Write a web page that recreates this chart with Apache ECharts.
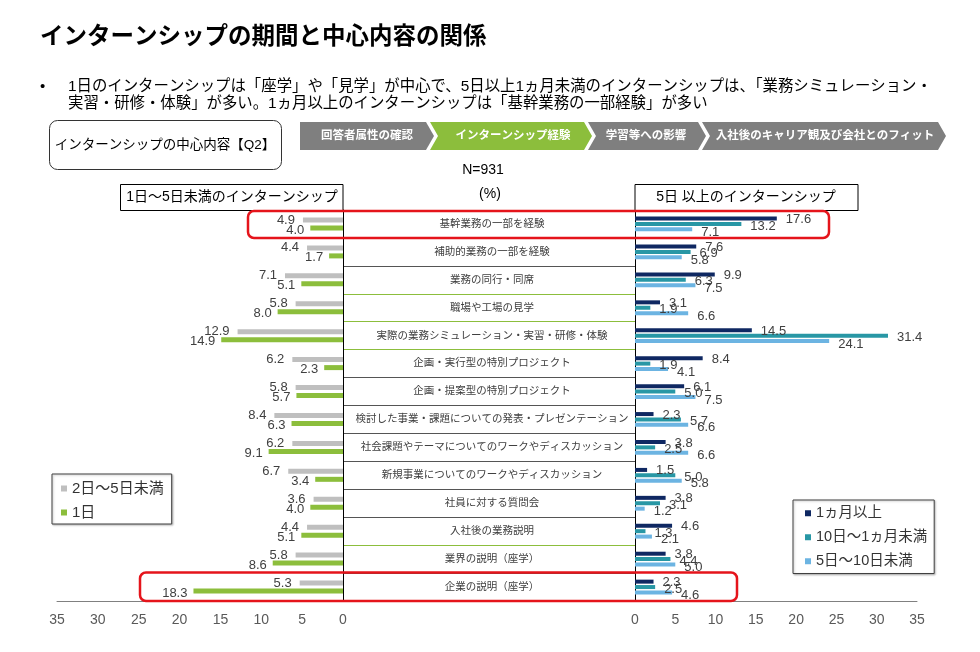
<!DOCTYPE html>
<html><head><meta charset="utf-8">
<script src="https://cdn.jsdelivr.net/npm/echarts@6/dist/echarts.min.js"></script>
<style>html,body{margin:0;padding:0;background:#fff}#c{width:980px;height:652px}</style>
</head><body><div id="c"></div>
<script>
const categories = ['基幹業務の一部を経験','補助的業務の一部を経験','業務の同行・同席','職場や工場の見学','実際の業務シミュレーション・実習・研修・体験','企画・実行型の特別プロジェクト','企画・提案型の特別プロジェクト','検討した事業・課題についての発表・プレゼンテーション','社会課題やテーマについてのワークやディスカッション','新規事業についてのワークやディスカッション','社員に対する質問会','入社後の業務説明','業界の説明（座学）','企業の説明（座学）'];
const seriesNamesLeft = ['2日～5日未満','1日'];
const seriesNamesRight = ['1ヵ月以上','10日～1ヵ月未満','5日～10日未満'];
const d2to5 = [4.9,4.4,7.1,5.8,12.9,6.2,5.8,8.4,6.2,6.7,3.6,4.4,5.8,5.3];
const d1 = [4.0,1.7,5.1,8.0,14.9,2.3,5.7,6.3,9.1,3.4,4.0,5.1,8.6,18.3];
const m1plus = [17.6,7.6,9.9,3.1,14.5,8.4,6.1,2.3,3.8,1.5,3.8,4.6,3.8,2.3];
const d10to1m = [13.2,6.9,6.3,1.9,31.4,1.9,5.0,5.7,2.5,5.0,3.1,1.3,4.4,2.5];
const d5to10 = [7.1,5.8,7.5,6.6,24.1,4.1,7.5,6.6,6.6,5.8,1.2,2.1,5.0,4.6];
const axisMin = 0, axisMax = 35, axisInterval = 5;

const JP = "'Liberation Sans','Noto Sans CJK JP',sans-serif";
const NUM = "'Liberation Sans',Arial,sans-serif";
const G = '#8cbe3c', DK = '#555555';
const sepColors = [DK,DK,DK,G,G,G,DK,DK,DK,DK,DK,DK,G,DK,DK];
const lbl = {show:true, fontSize:13, fontFamily:NUM, color:'#404040', formatter:p=>p.value.toFixed(1)};

function txt(text,x,y,size,opt){
  opt = opt||{};
  return {type:'text', z:100, style:Object.assign({text:text,x:x,y:y,fontSize:size,fontFamily:JP,fill:'#000',
    align:opt.align||'left',textAlign:opt.align||'left',verticalAlign:'middle',textVerticalAlign:'middle',fontWeight:opt.bold?'bold':'normal'},opt.style||{})};
}
function chevron(pts,fill){return {type:'polygon',z:90,shape:{points:pts},style:{fill:fill}};}

const chart = echarts.init(document.getElementById('c'));
chart.setOption({
  animation:false,
  textStyle:{fontFamily:JP},
  grid:[
    {left:57, width:286, top:210, height:391},
    {left:343, width:292, top:210, height:391},
    {left:635, width:282, top:210, height:391}
  ],
  xAxis:[
    {gridIndex:0,type:'value',min:axisMin,max:axisMax,interval:axisInterval,inverse:true,
      axisLine:{show:true,lineStyle:{color:'#808080'}},axisTick:{show:false},splitLine:{show:false},
      axisLabel:{fontSize:14,fontFamily:NUM,color:'#595959',margin:12}},
    {gridIndex:1,type:'value',show:false},
    {gridIndex:2,type:'value',min:axisMin,max:axisMax,interval:axisInterval,
      axisLine:{show:true,lineStyle:{color:'#808080'}},axisTick:{show:false},splitLine:{show:false},
      axisLabel:{fontSize:14,fontFamily:NUM,color:'#595959',margin:12}}
  ],
  yAxis:[
    {gridIndex:0,type:'category',data:categories,inverse:true,show:false},
    {gridIndex:1,type:'category',data:categories,inverse:true,position:'left',
      axisLine:{show:true,lineStyle:{color:'#000',width:1}},axisTick:{show:false},
      axisLabel:{align:'center',margin:-149,fontSize:10.5,color:'#404040',fontFamily:JP},
      splitLine:{show:true,lineStyle:{color:sepColors,width:1.2}}},
    {gridIndex:1,type:'category',data:categories,inverse:true,position:'right',
      axisLine:{show:true,lineStyle:{color:'#000',width:1}},axisTick:{show:false},axisLabel:{show:false}},
    {gridIndex:2,type:'category',data:categories,inverse:true,show:false}
  ],
  legend:[
    {data:seriesNamesLeft,left:52,top:474,orient:'vertical',icon:'rect',itemWidth:6,itemHeight:6,itemGap:9,itemTextGap:5,
      padding:[7,8,4,9],borderColor:'#404040',borderWidth:1,backgroundColor:'#fff',
      shadowColor:'rgba(0,0,0,0.25)',shadowBlur:2,shadowOffsetX:1,shadowOffsetY:1,
      textStyle:{fontSize:15,lineHeight:15,color:'#333',fontFamily:JP}},
    {data:seriesNamesRight,left:793,top:500,orient:'vertical',icon:'rect',itemWidth:6,itemHeight:6,itemGap:9.5,itemTextGap:6,
      padding:[6,7,5,12],borderColor:'#404040',borderWidth:1,backgroundColor:'#fff',
      shadowColor:'rgba(0,0,0,0.25)',shadowBlur:2,shadowOffsetX:1,shadowOffsetY:1,
      textStyle:{fontSize:14.5,lineHeight:14.5,color:'#333',fontFamily:JP}}
  ],
  series:[
    {name:seriesNamesLeft[0],type:'bar',xAxisIndex:0,yAxisIndex:0,data:d2to5,barWidth:5,barGap:'60%',
      itemStyle:{color:'#bfbfbf'},label:Object.assign({},lbl,{position:'left',distance:8,offset:[0,0]})},
    {name:seriesNamesLeft[1],type:'bar',xAxisIndex:0,yAxisIndex:0,data:d1,barWidth:5,barGap:'60%',
      itemStyle:{color:G},label:Object.assign({},lbl,{position:'left',distance:6,offset:[0,2]})},
    {name:seriesNamesRight[0],type:'bar',xAxisIndex:2,yAxisIndex:3,data:m1plus,barWidth:4,barGap:'35%',
      itemStyle:{color:'#0f2862'},label:Object.assign({},lbl,{position:'right',distance:9,offset:[0,1]})},
    {name:seriesNamesRight[1],type:'bar',xAxisIndex:2,yAxisIndex:3,data:d10to1m,barWidth:4,barGap:'35%',
      itemStyle:{color:'#2897a5'},label:Object.assign({},lbl,{position:'right',distance:9,offset:[0,2]})},
    {name:seriesNamesRight[2],type:'bar',xAxisIndex:2,yAxisIndex:3,data:d5to10,barWidth:4,barGap:'35%',
      itemStyle:{color:'#6cb4e2'},label:Object.assign({},lbl,{position:'right',distance:9,offset:[0,3]})}
  ],
  graphic:[
    txt('インターンシップの期間と中心内容の関係',40,38,23.5,{bold:true}),
    txt('•',40,87,15),
    txt('1日のインターンシップは「座学」や「見学」が中心で、5日以上1ヵ月未満のインターンシップは、「業務シミュレーション・',68,87,15.4),
    txt('実習・研修・体験」が多い。1ヵ月以上のインターンシップは「基幹業務の一部経験」が多い',68,104,15.4),
    {type:'rect',z:90,shape:{x:49.5,y:120.5,width:232,height:49,r:8},style:{fill:'#fff',stroke:'#333',lineWidth:1}},
    txt('インターンシップの中心内容【Q2】',165,145,13.5,{align:'center'}),
    chevron([[300,122],[426,122],[434,136],[426,150],[300,150]],'#7f7f7f'),
    chevron([[430,122],[584,122],[592,136],[584,150],[430,150],[438,136]],G),
    chevron([[588,122],[698,122],[706,136],[698,150],[588,150],[596,136]],'#7f7f7f'),
    chevron([[702,122],[938,122],[946,136],[938,150],[702,150],[710,136]],'#7f7f7f'),
    txt('回答者属性の確認',367,136,11.5,{align:'center',bold:true,style:{fill:'#fff'}}),
    txt('インターンシップ経験',513,136,11.5,{align:'center',bold:true,style:{fill:'#fff'}}),
    txt('学習等への影響',646,136,11.5,{align:'center',bold:true,style:{fill:'#fff'}}),
    txt('入社後のキャリア観及び会社とのフィット',825,136,11.5,{align:'center',bold:true,style:{fill:'#fff'}}),
    txt('N=931',483,170,14,{align:'center'}),
    txt('(%)',490,194,14,{align:'center'}),
    {type:'rect',z:90,shape:{x:120.5,y:184.5,width:222.5,height:26},style:{fill:'#fff',stroke:'#000',lineWidth:1}},
    txt('1日～5日未満のインターンシップ',232,197.5,14,{align:'center'}),
    {type:'rect',z:90,shape:{x:635,y:184.5,width:223,height:26},style:{fill:'#fff',stroke:'#000',lineWidth:1}},
    txt('5日 以上のインターンシップ',746,197.5,14,{align:'center'}),
    {type:'rect',z:100,shape:{x:248,y:211,width:581,height:27,r:6},style:{fill:'none',stroke:'#e5141b',lineWidth:2.5}},
    {type:'rect',z:100,shape:{x:140,y:572.5,width:597,height:28.5,r:6},style:{fill:'none',stroke:'#e5141b',lineWidth:2.5}}
  ]
});
</script></body></html>
